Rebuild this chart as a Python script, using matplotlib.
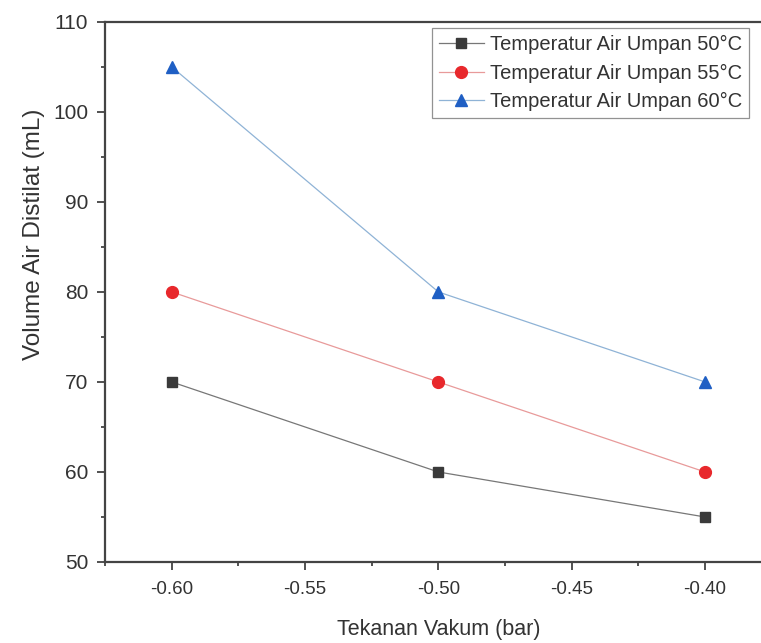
import matplotlib
matplotlib.use("Agg")
import matplotlib.pyplot as plt
from matplotlib.ticker import MultipleLocator

plt.rcParams['font.family'] = ['Liberation Sans', 'DejaVu Sans']

tekanan = [-0.60, -0.50, -0.40]
vol_50 = [70, 60, 55]
vol_55 = [80, 70, 60]
vol_60 = [105, 80, 70]
labels = ["Temperatur Air Umpan 50°C",
          "Temperatur Air Umpan 55°C",
          "Temperatur Air Umpan 60°C"]

fig = plt.figure(figsize=(7.61, 6.43), dpi=100)
# the right border of the original is cut off, so the axes run past the figure
ax = fig.add_axes([0.138, 0.126, 0.876, 0.840])

ax.plot(tekanan, vol_50, color="#777777", lw=0.9, marker="s", ms=7.5,
        mfc="#3a3a3a", mec="#3a3a3a", label=labels[0])
ax.plot(tekanan, vol_55, color="#e89a9a", lw=0.9, marker="o", ms=8.5,
        mfc="#e8282c", mec="#e8282c", label=labels[1])
ax.plot(tekanan, vol_60, color="#8fb3d6", lw=0.9, marker="^", ms=8.5,
        mfc="#1f5fc4", mec="#1f5fc4", label=labels[2])

ax.set_xlim(-0.625, -0.375)
ax.set_ylim(50, 110)
ax.xaxis.set_major_locator(MultipleLocator(0.05))
ax.xaxis.set_minor_locator(MultipleLocator(0.025))
ax.yaxis.set_major_locator(MultipleLocator(10))
ax.yaxis.set_minor_locator(MultipleLocator(5))
ax.set_xticks([-0.60, -0.55, -0.50, -0.45, -0.40])
ax.set_xticklabels(["-0.60", "-0.55", "-0.50", "-0.45", "-0.40"])

ax.tick_params(which="major", direction="out", length=5.5, width=1.2,
               colors="#333333")
ax.tick_params(which="minor", direction="out", length=3, width=1.2,
               colors="#333333")
ax.tick_params(axis="x", which="major", labelsize=13.5, pad=8)
ax.tick_params(axis="y", which="major", labelsize=15, pad=6.5)
for side in ["left", "bottom", "top", "right"]:
    ax.spines[side].set_linewidth(1.6)
    ax.spines[side].set_color("#444444")

ax.set_xlabel("Tekanan Vakum (bar)", fontsize=15.5, color="#333333", labelpad=15)
ax.set_ylabel("Volume Air Distilat (mL)", fontsize=17.5, color="#333333")
ax.yaxis.set_label_coords(-0.09, 0.606)

leg = ax.legend(loc="upper right", bbox_to_anchor=(0.966, 0.988), fontsize=14.5,
                frameon=True, fancybox=False, edgecolor="#777777",
                handlelength=2.2, borderpad=0.35, labelspacing=0.45,
                handletextpad=0.3, borderaxespad=0)
leg.get_frame().set_linewidth(0.9)
for t in leg.get_texts():
    t.set_color("#333333")

plt.savefig("out.png", dpi=100)
